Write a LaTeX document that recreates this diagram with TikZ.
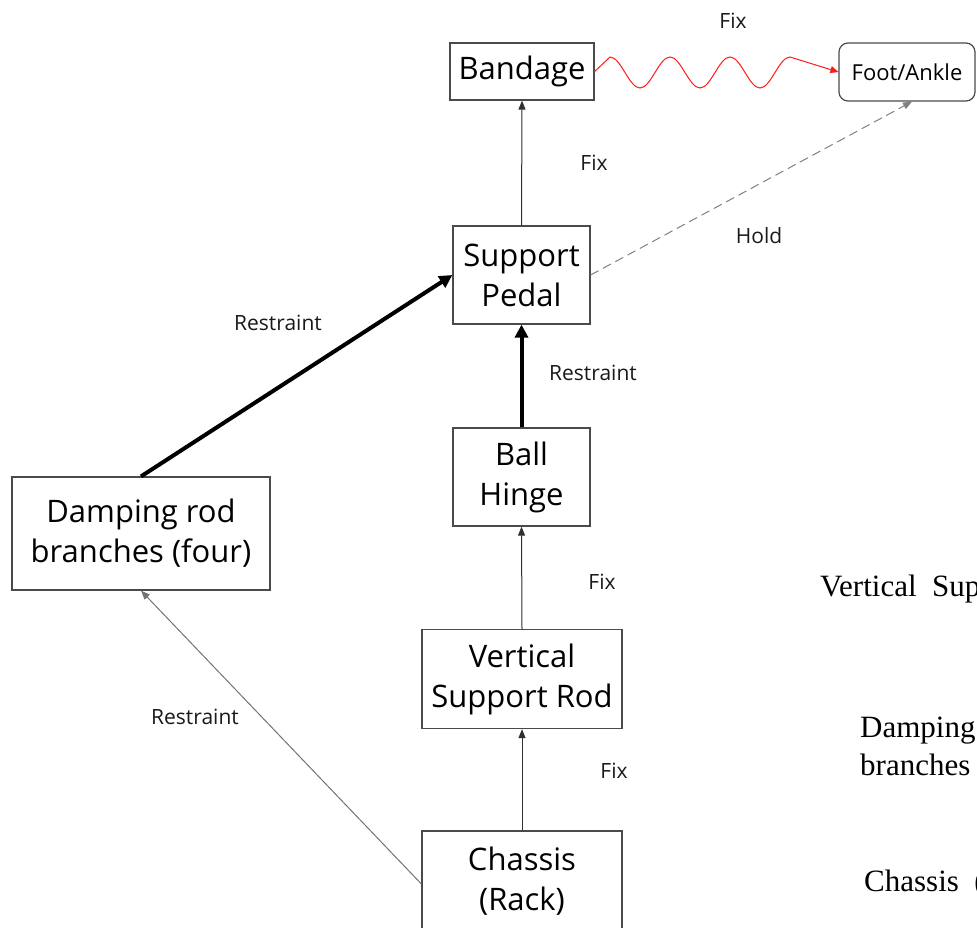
\documentclass[tikz,border=0pt]{standalone}
\usepackage{fontspec}
\setmainfont{Open Sans}
\newfontfamily\serifface{Liberation Serif}
\usetikzlibrary{arrows.meta}
\definecolor{boxline}{HTML}{4A4A4A}
\definecolor{wire}{HTML}{303030}
\tikzset{
  block/.style={draw=boxline, line width=1.2pt, fill=white, align=center,
    font=\fontsize{31}{40}\selectfont, inner sep=0pt},
  tag/.style={font=\fontsize{21}{24}\selectfont, text=black!90, inner sep=0pt},
  thinlink/.style={draw=wire, line width=1pt, -{Triangle[length=9pt,width=7pt]}},
  thicklink/.style={draw=black, line width=4pt, -{Triangle[length=13pt,width=13pt]}},
  holdlink/.style={draw=gray, line width=1pt, dash pattern=on 9pt off 5pt, -{Triangle[length=9pt,width=7pt]}},
  sidetext/.style={font=\serifface\fontsize{31}{38}\selectfont, anchor=west, align=left, inner sep=0pt}
}
\begin{document}
\begin{tikzpicture}[x=1pt,y=-1pt]
\useasboundingbox (0,0) rectangle (977,927);
\clip (0,0) rectangle (977,927);

% component boxes
\node[block, minimum width=144pt, minimum height=57pt] (band) at (522,71.5) {Bandage};
\node[block, rounded corners=9pt, minimum width=136pt, minimum height=58pt,
      font=\fontsize{22}{26}\selectfont] (foot) at (907,72) {Foot/Ankle};
\node[block, minimum width=137pt, minimum height=98pt] (pedal) at (521.5,275) {Support\\Pedal};
\node[block, minimum width=137pt, minimum height=98pt] (hinge) at (521.5,477) {Ball\\Hinge};
\node[block, minimum width=258pt, minimum height=113pt] (damp) at (141,533.5) {Damping rod\\branches (four)};
\node[block, minimum width=200pt, minimum height=99pt] (rod) at (522,679) {Vertical\\Support Rod};
\node[block, minimum width=200pt, minimum height=100pt] (chassis) at (522,881) {Chassis\\(Rack)};

% connections
\draw[thinlink] (pedal.north) -- (band.south);
\draw[thicklink] (hinge.north) -- (pedal.south);
\draw[thinlink] (rod.north) -- (hinge.south);
\draw[thinlink] (chassis.north) -- (rod.south);
\draw[thicklink] (damp.north) -- (pedal.west);
\draw[thinlink, draw=gray!90!black] ([yshift=-3pt]chassis.west) -- (damp.south);
\draw[holdlink] (pedal.east) -- ([xshift=5pt]foot.south);
\draw[red!90!white, line width=1pt, -{Triangle[length=8pt,width=7pt]}]
  (band.east) -- (610,57)
  cos (625,72.5) sin (640,88) cos (655,72.5) sin (670,57)
  cos (685,72.5) sin (700,88) cos (715,72.5) sin (730,57)
  cos (745,72.5) sin (760,88) cos (775,72.5) sin (790,57)
  -- (foot.west);

% connection labels
\node[tag] (lfixtop) at (733,21) {Fix};
\node[tag] (lfixpedal) at (594,163) {Fix};
\node[tag] (lhold) at (759,236) {Hold};
\node[tag] (lrestpedal) at (278,323) {Restraint};
\node[tag] (lresthinge) at (593,373) {Restraint};
\node[tag] (lfixhinge) at (602,582) {Fix};
\node[tag] (lrestdamp) at (195,717) {Restraint};
\node[tag] (lfixrod) at (614,771) {Fix};

% legend column at the right edge
\node[sidetext] (sideA) at (820,589) {Vertical\ \ Support Rod};
\node[sidetext] (sideB) at (860,749) {Damping rod\\branches (four)};
\node[sidetext] (sideC) at (864,884) {Chassis\ \ (Rack)};
\end{tikzpicture}
\end{document}
